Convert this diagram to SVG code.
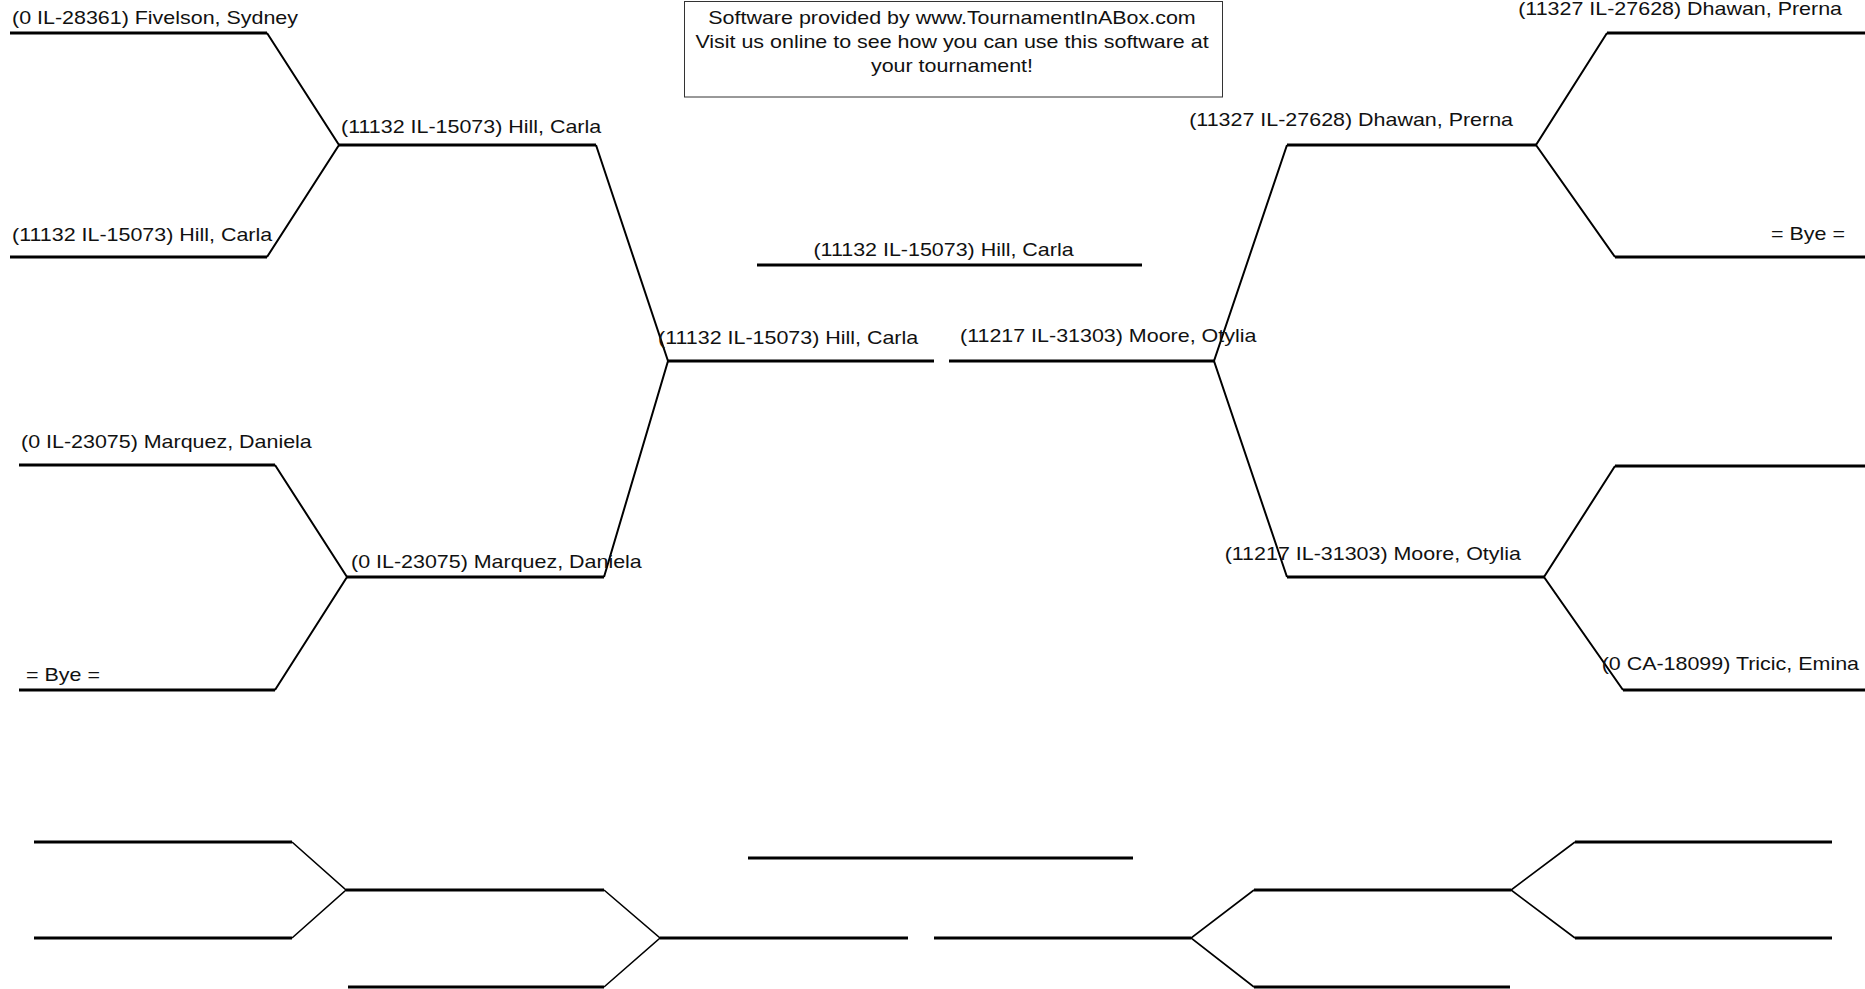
<svg xmlns="http://www.w3.org/2000/svg" width="1865" height="989" viewBox="0 0 1865 989">
<style>
.h{stroke:#000;stroke-width:3;fill:none}
.d{stroke:#000;stroke-width:2;fill:none}
.d2{stroke:#000;stroke-width:1.6;fill:none}
.t{font-family:"Liberation Sans",Arial,Helvetica,sans-serif;font-size:18.5px;fill:#111}
.e{text-anchor:end}
.m{text-anchor:middle}
</style>
<rect width="1865" height="989" fill="#fff"/>
<g id="ad">
<rect x="684.5" y="1.5" width="538" height="95.5" fill="#fff" stroke="#333" stroke-width="1"/>
<text class="t m" transform="translate(952 24) scale(1.16 1)">Software provided by www.TournamentInABox.com</text>
<text class="t m" transform="translate(952 47.5) scale(1.16 1)">Visit us online to see how you can use this software at</text>
<text class="t m" transform="translate(952 72) scale(1.16 1)">your tournament!</text>
</g>
<g id="connectors">
<path class="d" d="M267 33L339 145L267 257"/>
<path class="d" d="M275 465L347 577L275 690"/>
<path class="d" d="M596 145L668 361L604 577"/>
<path class="d" d="M1287 145L1214 361L1287 577"/>
<path class="d" d="M1607 33L1536 145L1615 257"/>
<path class="d" d="M1615 466L1544 577L1623 690"/>
<path class="d2" d="M292 842L346 890L292 938"/>
<path class="d2" d="M604 890L660 938L604 987"/>
<path class="d2" d="M1254 890L1191 938L1254 987"/>
<path class="d2" d="M1575 842L1511 890L1575 938"/>
</g>
<g id="n-l1"><path class="h" d="M10 33H267"/><text class="t" transform="translate(12 24) scale(1.16 1)">(0 IL-28361) Fivelson, Sydney</text></g>
<g id="n-l2"><path class="h" d="M10 257H267"/><text class="t" transform="translate(12 241) scale(1.16 1)">(11132 IL-15073) Hill, Carla</text></g>
<g id="n-l3"><path class="h" d="M19 465H275"/><text class="t" transform="translate(21 448) scale(1.16 1)">(0 IL-23075) Marquez, Daniela</text></g>
<g id="n-l4"><path class="h" d="M19 690H275"/><text class="t" transform="translate(26 681) scale(1.16 1)">= Bye =</text></g>
<g id="n-l5"><path class="h" d="M339 145H596"/><text class="t" transform="translate(341 133) scale(1.16 1)">(11132 IL-15073) Hill, Carla</text></g>
<g id="n-l6"><path class="h" d="M347 577H604"/><text class="t" transform="translate(351 568) scale(1.16 1)">(0 IL-23075) Marquez, Daniela</text></g>
<g id="n-l7"><path class="h" d="M668 361H934"/><text class="t" transform="translate(658 344) scale(1.16 1)">(11132 IL-15073) Hill, Carla</text></g>
<g id="n-final"><path class="h" d="M757 265H1142"/><text class="t m" transform="translate(943.5 256) scale(1.16 1)">(11132 IL-15073) Hill, Carla</text></g>
<g id="n-r7"><path class="h" d="M949 361H1214"/><text class="t" transform="translate(960 342) scale(1.16 1)">(11217 IL-31303) Moore, Otylia</text></g>
<g id="n-r5"><path class="h" d="M1287 145H1536"/><text class="t e" transform="translate(1513 126) scale(1.16 1)">(11327 IL-27628) Dhawan, Prerna</text></g>
<g id="n-r6"><path class="h" d="M1287 577H1544"/><text class="t e" transform="translate(1521 560) scale(1.16 1)">(11217 IL-31303) Moore, Otylia</text></g>
<g id="n-r1"><path class="h" d="M1607 33H1865"/><text class="t e" transform="translate(1842 15) scale(1.16 1)">(11327 IL-27628) Dhawan, Prerna</text></g>
<g id="n-r2"><path class="h" d="M1615 257H1865"/><text class="t e" transform="translate(1845 240) scale(1.16 1)">= Bye =</text></g>
<g id="n-r3"><path class="h" d="M1615 466H1865"/></g>
<g id="n-r4"><path class="h" d="M1623 690H1865"/><text class="t e" transform="translate(1859 670) scale(1.16 1)">(0 CA-18099) Tricic, Emina</text></g>
<g id="n-b1"><path class="h" d="M34 842H292"/></g>
<g id="n-b2"><path class="h" d="M34 938H292"/></g>
<g id="n-b3"><path class="h" d="M346 890H604"/></g>
<g id="n-b4"><path class="h" d="M348 987H604"/></g>
<g id="n-b5"><path class="h" d="M660 938H908"/></g>
<g id="n-bfinal"><path class="h" d="M748 858H1133"/></g>
<g id="n-b6"><path class="h" d="M934 938H1191"/></g>
<g id="n-b7"><path class="h" d="M1254 890H1511"/></g>
<g id="n-b8"><path class="h" d="M1254 987H1510"/></g>
<g id="n-b9"><path class="h" d="M1575 842H1832"/></g>
<g id="n-b10"><path class="h" d="M1575 938H1832"/></g>
</svg>
